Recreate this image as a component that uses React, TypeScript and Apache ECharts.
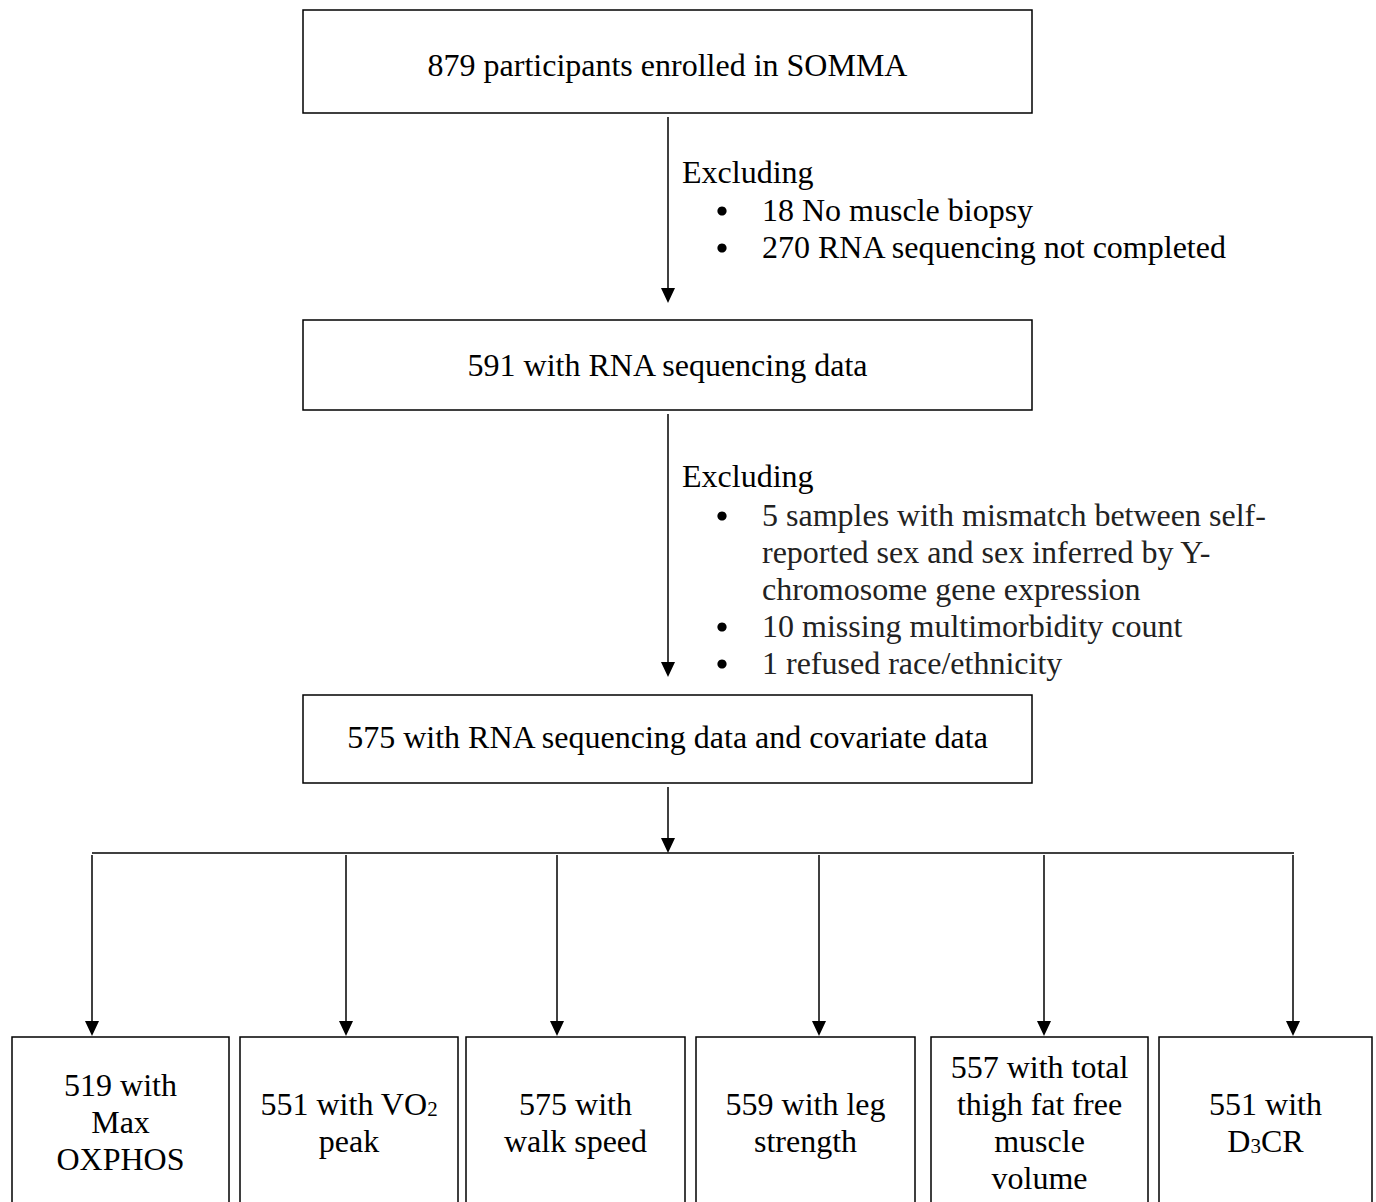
import React, { useEffect, useRef } from "react";
import * as echarts from "echarts";

// ---------- content ----------
const stageLabels = [
  "879 participants enrolled in SOMMA",
  "591 with RNA sequencing data",
  "575 with RNA sequencing data and covariate data",
];
const exclusionTitle = "Excluding";
const firstExclusions: string[][] = [
  ["18 No muscle biopsy"],
  ["270 RNA sequencing not completed"],
];
const secondExclusions: string[][] = [
  [
    "5 samples with mismatch between self-",
    "reported sex and sex inferred by Y-",
    "chromosome gene expression",
  ],
  ["10 missing multimorbidity count"],
  ["1 refused race/ethnicity"],
];
const outcomeCounts = [519, 551, 575, 559, 557, 551];
const outcomeTexts: string[][] = [
  ["with", "Max", "OXPHOS"],
  ["with VO{sub|2}", "peak"],
  ["with", "walk speed"],
  ["with leg", "strength"],
  ["with total", "thigh fat free", "muscle", "volume"],
  ["with", "D{sub|3}CR"],
];

// ---------- layout ----------
const W = 1376;
const H = 1202;
const FONT = '"Liberation Serif", "Times New Roman", Times, serif';
const FS = 32;
const LINE = 37;
const BOX_X0 = 303;
const BOX_X1 = 1032;
const SPINE_X = 668;
const stageBoxY = [
  { y0: 10, y1: 113, ty: 65 },
  { y0: 320, y1: 410, ty: 365 },
  { y0: 695, y1: 783, ty: 737 },
];
const spineArrows = [
  { from: 117, tip: 303 },
  { from: 414, tip: 677 },
  { from: 787, tip: 853 },
];
const exclusionLayout = [
  { titleY: 172, firstLineY: 210 },
  { titleY: 476, firstLineY: 515 },
];
const TITLE_X = 682;
const BULLET_X = 722;
const ITEM_X = 762;
const BRANCH_Y = 853;
const outcomeBoxX: number[][] = [
  [12, 229],
  [240, 458],
  [466, 685],
  [696, 915],
  [931, 1148],
  [1159, 1372],
];
const dropX = [92, 346, 557, 819, 1044, 1293];
const OUT_TOP = 1037;
const OUT_BOTTOM = 1207;
const OUT_TEXT_Y = 1122;

const STROKE = "#000";
const LW = 1.5;

function textEl(x: number, y: number, text: string, align: string, fill = "#000", extra: any = {}) {
  return {
    type: "text",
    x,
    y,
    style: {
      text,
      fontSize: FS,
      fontFamily: FONT,
      fill,
      align,
      verticalAlign: "middle",
      textAlign: align,
      textVerticalAlign: "middle",
      ...extra,
    },
  };
}

function arrow(g: any[], x: number, from: number, tip: number) {
  g.push({
    type: "line",
    shape: { x1: x, y1: from, x2: x, y2: tip - 12 },
    style: { stroke: STROKE, lineWidth: LW },
  });
  g.push({
    type: "polygon",
    shape: { points: [[x - 7, tip - 15], [x + 7, tip - 15], [x, tip]] },
    style: { fill: STROKE },
  });
}

function buildGraphic() {
  const g: any[] = [];

  // stage boxes
  stageBoxY.forEach((b, i) => {
    g.push({
      type: "rect",
      shape: { x: BOX_X0, y: b.y0, width: BOX_X1 - BOX_X0, height: b.y1 - b.y0 },
      style: { fill: "#fff", stroke: STROKE, lineWidth: LW },
    });
    g.push(textEl((BOX_X0 + BOX_X1) / 2, b.ty, stageLabels[i], "center"));
  });

  // spine arrows
  spineArrows.forEach((a) => arrow(g, SPINE_X, a.from, a.tip));

  // exclusion lists
  [firstExclusions, secondExclusions].forEach((list, k) => {
    const lay = exclusionLayout[k];
    const fill = k === 0 ? "#000" : "#222";
    g.push(textEl(TITLE_X, lay.titleY, exclusionTitle, "left"));
    let y = lay.firstLineY;
    list.forEach((item) => {
      g.push({
        type: "circle",
        shape: { cx: BULLET_X, cy: y + 1, r: 4.6 },
        style: { fill: "#000" },
      });
      item.forEach((line) => {
        g.push(textEl(ITEM_X, y, line, "left", fill));
        y += LINE;
      });
    });
  });

  // branch
  g.push({
    type: "line",
    shape: { x1: dropX[0], y1: BRANCH_Y, x2: dropX[dropX.length - 1] + 1, y2: BRANCH_Y },
    style: { stroke: STROKE, lineWidth: LW },
  });
  dropX.forEach((x) => arrow(g, x, BRANCH_Y + 2, OUT_TOP - 1));

  // outcome boxes
  outcomeBoxX.forEach(([x0, x1], i) => {
    g.push({
      type: "rect",
      shape: { x: x0, y: OUT_TOP, width: x1 - x0, height: OUT_BOTTOM - OUT_TOP },
      style: { fill: "#fff", stroke: STROKE, lineWidth: LW },
    });
    const lines = outcomeTexts[i].slice();
    lines[0] = `${outcomeCounts[i]} ${lines[0]}`;
    g.push(
      textEl((x0 + x1) / 2, OUT_TEXT_Y, lines.join("\n"), "center", "#000", {
        lineHeight: LINE,
        rich: {
          sub: {
            fontSize: 21,
            fontFamily: FONT,
            fill: "#000",
            verticalAlign: "bottom",
            height: 26,
            lineHeight: LINE,
          },
        },
      })
    );
  });

  return g;
}

export default function App() {
  const ref = useRef<HTMLDivElement>(null);
  useEffect(() => {
    document.body.style.margin = "0";
    if (!ref.current) return;
    const chart = echarts.init(ref.current, null, { renderer: "svg", width: W, height: H });
    chart.setOption({
      animation: false,
      backgroundColor: "#fff",
      graphic: { elements: buildGraphic() },
    });
    return () => chart.dispose();
  }, []);
  return <div ref={ref} style={{ width: W, height: H, background: "#fff" }} />;
}
